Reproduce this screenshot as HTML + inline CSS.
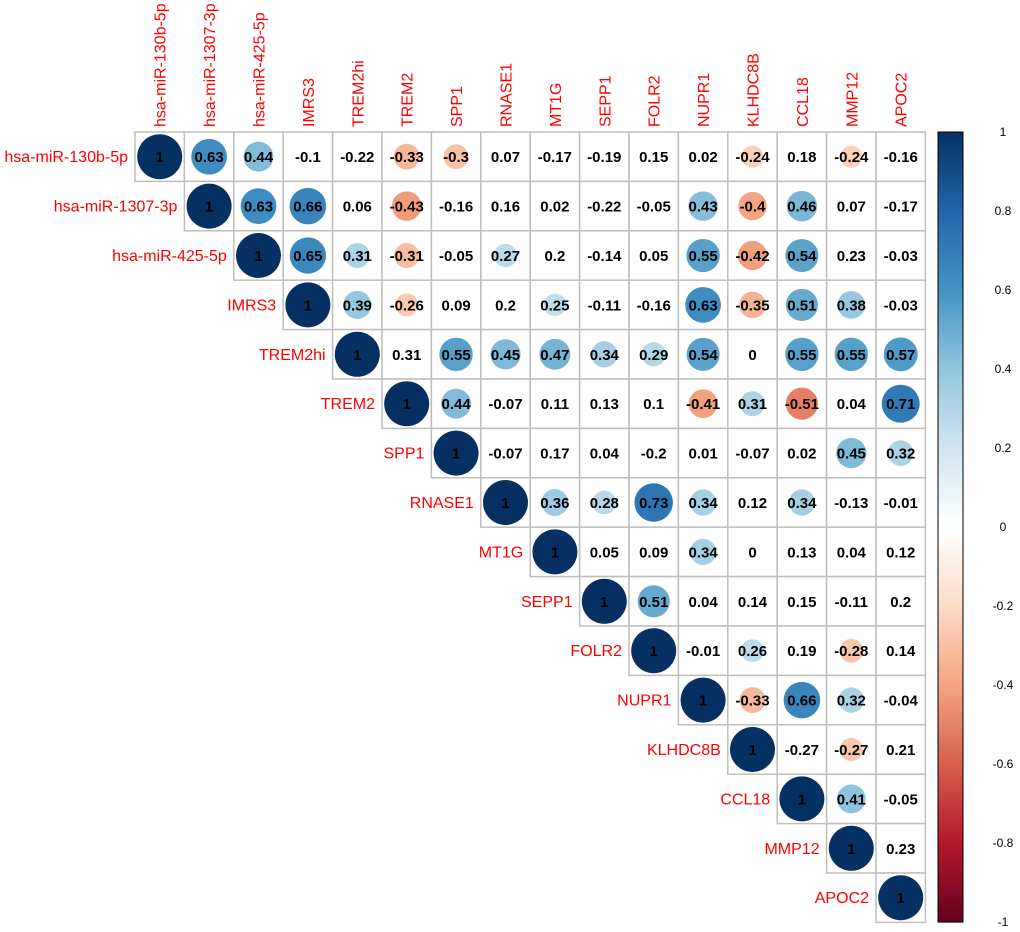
<!DOCTYPE html>
<html><head><meta charset="utf-8"><style>
body{margin:0;background:#fff}
svg{display:block;font-family:"Liberation Sans",sans-serif}
</style></head><body>
<svg id="chart" width="1020" height="932" viewBox="0 0 1020 932"></svg>
<script>
const labels=["hsa-miR-130b-5p","hsa-miR-1307-3p","hsa-miR-425-5p","IMRS3","TREM2hi","TREM2","SPP1","RNASE1","MT1G","SEPP1","FOLR2","NUPR1","KLHDC8B","CCL18","MMP12","APOC2"];
const values=[
[1,0.63,0.44,-0.1,-0.22,-0.33,-0.3,0.07,-0.17,-0.19,0.15,0.02,-0.24,0.18,-0.24,-0.16],
[1,0.63,0.66,0.06,-0.43,-0.16,0.16,0.02,-0.22,-0.05,0.43,-0.4,0.46,0.07,-0.17],
[1,0.65,0.31,-0.31,-0.05,0.27,0.2,-0.14,0.05,0.55,-0.42,0.54,0.23,-0.03],
[1,0.39,-0.26,0.09,0.2,0.25,-0.11,-0.16,0.63,-0.35,0.51,0.38,-0.03],
[1,0.31,0.55,0.45,0.47,0.34,0.29,0.54,0,0.55,0.55,0.57],
[1,0.44,-0.07,0.11,0.13,0.1,-0.41,0.31,-0.51,0.04,0.71],
[1,-0.07,0.17,0.04,-0.2,0.01,-0.07,0.02,0.45,0.32],
[1,0.36,0.28,0.73,0.34,0.12,0.34,-0.13,-0.01],
[1,0.05,0.09,0.34,0,0.13,0.04,0.12],
[1,0.51,0.04,0.14,0.15,-0.11,0.2],
[1,-0.01,0.26,0.19,-0.28,0.14],
[1,-0.33,0.66,0.32,-0.04],
[1,-0.27,-0.27,0.21],
[1,0.41,-0.05],
[1,0.23],
[1]];
const significant=[
[1,1,1,0,0,1,1,0,0,0,0,0,1,0,1,0],
[1,1,1,0,1,0,0,0,0,0,1,1,1,0,0],
[1,1,1,1,0,1,0,0,0,1,1,1,0,0],
[1,1,1,0,0,1,0,0,1,1,1,1,0],
[1,0,1,1,1,1,1,1,0,1,1,1],
[1,1,0,0,0,0,1,1,1,0,1],
[1,0,0,0,0,0,0,0,1,1],
[1,1,1,1,1,0,1,0,0],
[1,0,0,1,0,0,0,0],
[1,1,0,0,0,0,0],
[1,0,1,0,1,0],
[1,1,1,1,0],
[1,0,1,0],
[1,1,0],
[1,0],
[1]];
const barTicks=[1,0.8,0.6,0.4,0.2,0,-0.2,-0.4,-0.6,-0.8,-1];
const stops=["#67001F","#B2182B","#D6604D","#F4A582","#FDDBC7","#FFFFFF","#D1E5F0","#92C5DE","#4393C3","#2166AC","#053061"];
const NS="http://www.w3.org/2000/svg";
const svg=document.getElementById("chart");
const X0=135,Y0=132,C=49.4,N=labels.length;
function mk(t,a,p){const e=document.createElementNS(NS,t);for(const k in a)e.setAttribute(k,a[k]);(p||svg).appendChild(e);return e;}
function hex(h){return [1,3,5].map(i=>parseInt(h.substr(i,2),16));}
function color(v){const t=(v+1)/2*10;let i=Math.min(9,Math.floor(t));const f=t-i;const a=hex(stops[i]),b=hex(stops[i+1]);return "rgb("+a.map((x,k)=>Math.round(x+(b[k]-x)*f)).join(",")+")";}
const cx=j=>X0+(j+0.5)*C, cy=i=>Y0+(i+0.5)*C;
for(let i=0;i<N;i++){
  for(let k=0;k<values[i].length;k++){
    const j=i+k,v=values[i][k];
    const r=mk("rect",{x:X0+j*C,y:Y0+i*C,width:C,height:C,fill:"#fff",stroke:"#BEBEBE","stroke-width":1.5});
    
    
    if(significant[i][k]){
      const c=mk("circle",{cx:cx(j),cy:cy(i),r:22.5*Math.sqrt(Math.abs(v)),fill:color(v)});
      
      
    }
    const t=mk("text",{x:cx(j),y:cy(i)+5.5,"text-anchor":"middle","font-size":15,"font-weight":"bold",fill:"#000"});
    t.textContent=String(v);
    
    
  }
  const rl=mk("text",{x:X0+i*C-7,y:cy(i)+5.5,"text-anchor":"end","font-size":16,fill:"#FF0000"});
  rl.textContent=labels[i];
  
  
  const cl=mk("text",{transform:"translate("+(cx(i)+6)+",127) rotate(-90)","font-size":16,fill:"#FF0000"});
  cl.textContent=labels[i];
  
  
}
const by0=132,by1=922,bx=938,bw=25,steps=200;
for(let s=0;s<steps;s++){
  const v=1-2*(s+0.5)/steps;
  const r=mk("rect",{x:bx,y:by0+s*(by1-by0)/steps,width:bw,height:(by1-by0)/steps+0.6,fill:color(v)});
  
  
}
const fr=mk("rect",{x:bx,y:by0,width:bw,height:by1-by0,fill:"none",stroke:"#000","stroke-width":1});


barTicks.forEach(v=>{
  const y=by0+(1-v)/2*(by1-by0);
  const t=mk("text",{x:1003,y:y+4,"text-anchor":"middle","font-size":12,fill:"#000"});
  t.textContent=String(v);
  
  
});
</script>
</body></html>
